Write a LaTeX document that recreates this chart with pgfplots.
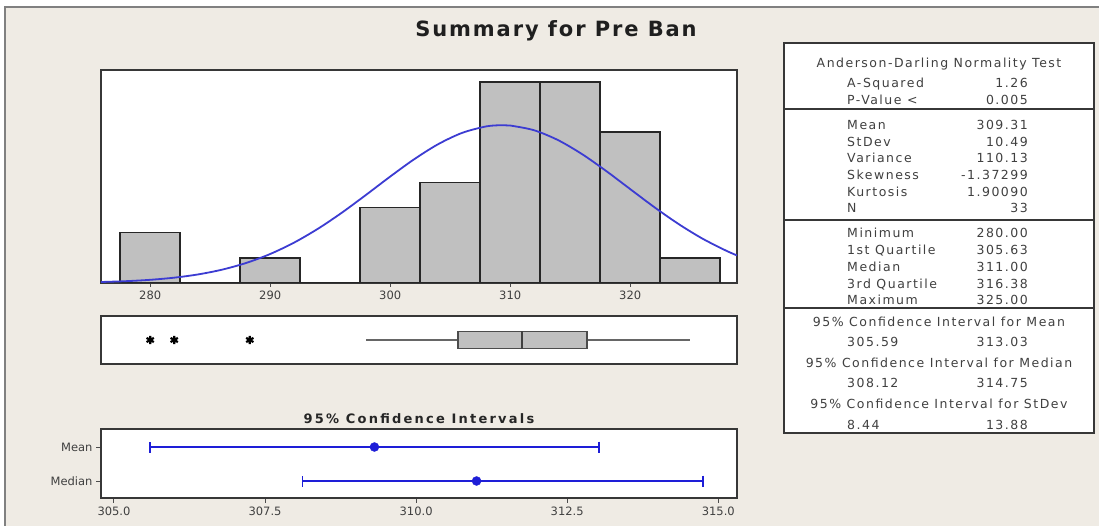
\documentclass[border=0pt]{standalone}
\usepackage{fontspec}
\setmainfont{DejaVu Sans}
\newfontfamily\tabfont{DejaVu Sans}[LetterSpace=12]
\newfontfamily\titfont{DejaVu Sans}[LetterSpace=9]
\newfontfamily\cititfont{DejaVu Sans}[LetterSpace=17]
\usepackage{pgfplots}
\pgfplotsset{compat=1.18}
\usepgfplotslibrary{statistics}
\definecolor{bgbeige}{RGB}{239,235,228}
\definecolor{boxgray}{RGB}{192,192,192}
\definecolor{curveblue}{RGB}{60,60,210}
\definecolor{ciblue}{RGB}{30,30,215}
\definecolor{labgray}{RGB}{64,64,64}
\definecolor{framegray}{RGB}{55,55,55}
\begin{document}
\begin{tikzpicture}[x=1pt,y=1pt]
\path[use as bounding box] (0,0) rectangle (1099,526);
\fill[white] (0,0) rectangle (1099,526);
\fill[bgbeige] (5,0) rectangle (1099,519);
\draw[black!50, line width=2pt] (5,0) -- (5,519) -- (1099,519);

% title
\node[anchor=base, inner sep=0, text=black!88, font=\titfont\bfseries\fontsize{21}{24}\selectfont] at (556,489) {Summary for Pre Ban};

\pgfplotsset{
  panel/.style={
    scale only axis, anchor=south west,
    axis background/.style={fill=white},
    axis line style={draw=framegray, line width=1.8pt},
    tick align=outside, tick pos=left,
    major tick length=4pt,
    tick style={draw=black!70, line width=1pt},
    ticklabel style={font=\fontsize{11.5}{13}\selectfont, text=labgray},
  }
}

% histogram
\begin{axis}[panel, at={(101pt,243pt)}, width=636pt, height=213pt,
  xmin=275.9, xmax=328.9, ymin=0, ymax=8.47,
  xtick={280,290,300,310,320}, xticklabels={280,290,300,310,320},
  ytick=\empty]
\addplot[ybar interval, fill=boxgray, draw=black!85, line width=1.6pt]
  coordinates {(277.5,2) (282.5,0) (287.5,1) (292.5,0) (297.5,3) (302.5,4) (307.5,8) (312.5,8) (317.5,6) (322.5,1) (327.5,1)};
\addplot[smooth, curveblue, line width=1.8pt]
  coordinates {(275.9,0.0393) (278,0.0730) (280,0.1266) (282,0.2118) (284,0.3416) (286,0.5314) (288,0.7971) (290,1.1529) (292,1.6083) (294,2.1630) (296,2.8057) (298,3.5093) (300,4.2319) (302,4.9223) (304,5.5205) (306,5.9704) (308,6.2263) (309.31,6.2751) (310,6.2615) (312,6.0721) (314,5.6783) (316,5.1204) (318,4.4527) (320,3.7336) (322,3.0189) (324,2.3539) (326,1.7698) (328,1.2834) (328.9,1.0973)};
\end{axis}

% boxplot
\begin{axis}[panel, at={(101pt,162pt)}, width=636pt, height=48pt,
  xmin=275.9, xmax=328.9, ymin=0, ymax=1,
  xtick=\empty, ytick=\empty]
\addplot[black!50, line width=2.4pt] coordinates {(298,0.5) (305.63,0.5)};
\addplot[black!50, line width=2.4pt] coordinates {(316.38,0.5) (325,0.5)};
\addplot[boxplot prepared={lower whisker=298, lower quartile=305.63, median=311,
    upper quartile=316.38, upper whisker=325, draw position=0.5, box extend=0.364,
    whisker extend=0, draw direction=x,
    every box/.append style={fill=boxgray, draw=black!70, line width=1.5pt},
    every median/.append style={draw=black!75, line width=2.2pt}},
  draw=black!60, line width=1.5pt] coordinates {};
\addplot[only marks, mark=asterisk, mark size=4.2pt, line width=2.2pt, black]
  coordinates {(280,0.5) (282,0.5) (288.3,0.5)};
\end{axis}

% CI title
\node[anchor=base, inner sep=0, text=black!85, font=\cititfont\bfseries\fontsize{13}{15}\selectfont] at (419,102.5) {95\% Confidence Intervals};

% CI plot
\begin{axis}[panel, at={(101pt,28pt)}, width=636pt, height=69pt,
  xmin=304.785, xmax=315.31, ymin=-0.5, ymax=1.53,
  xtick={305,307.5,310,312.5,315}, xticklabels={305.0,307.5,310.0,312.5,315.0},
  ytick={0,1}, yticklabels={Median,Mean},
  major tick length=5pt]
\addplot[ciblue, only marks, mark=*, mark size=4.5pt, mark options={fill=ciblue, draw=ciblue},
  error bars/.cd, x dir=both, x explicit, error mark=|,
  error bar style={ciblue, line width=1.5pt},
  error mark options={ciblue, line width=1.8pt, mark size=5.5pt}]
  coordinates {(309.31,1) -= (3.72,0) += (3.72,0) (311,0) -= (2.88,0) += (3.75,0)};
\end{axis}

% table
\fill[white] (784,93) rectangle (1094,483);
\draw[framegray, line width=1.8pt] (784,93) rectangle (1094,483);
\draw[framegray, line width=1.8pt] (784,417) -- (1094,417);
\draw[framegray, line width=1.8pt] (784,306) -- (1094,306);
\draw[framegray, line width=1.8pt] (784,218) -- (1094,218);
\begin{scope}[every node/.style={inner sep=0, text=labgray, font=\tabfont\fontsize{12.5}{14}\selectfont}]
\node[anchor=base] at (939,458.5) {Anderson-Darling Normality Test};
\node[anchor=base west] at (847,438.5) {A-Squared};   \node[anchor=base east] at (1028,438.5) {1.26};
\node[anchor=base west] at (847,421.5) {P-Value <};   \node[anchor=base east] at (1028,421.5) {0.005};
\node[anchor=base west] at (847,396.5) {Mean};        \node[anchor=base east] at (1028,396.5) {309.31};
\node[anchor=base west] at (847,379.5) {StDev};       \node[anchor=base east] at (1028,379.5) {10.49};
\node[anchor=base west] at (847,363.5) {Variance};    \node[anchor=base east] at (1028,363.5) {110.13};
\node[anchor=base west] at (847,346.5) {Skewness};    \node[anchor=base east] at (1028,346.5) {-1.37299};
\node[anchor=base west] at (847,329.5) {Kurtosis};    \node[anchor=base east] at (1028,329.5) {1.90090};
\node[anchor=base west] at (847,313.5) {N};           \node[anchor=base east] at (1028,313.5) {33};
\node[anchor=base west] at (847,288.5) {Minimum};     \node[anchor=base east] at (1028,288.5) {280.00};
\node[anchor=base west] at (847,271.5) {1st Quartile};\node[anchor=base east] at (1028,271.5) {305.63};
\node[anchor=base west] at (847,254.5) {Median};      \node[anchor=base east] at (1028,254.5) {311.00};
\node[anchor=base west] at (847,237.5) {3rd Quartile};\node[anchor=base east] at (1028,237.5) {316.38};
\node[anchor=base west] at (847,221.5) {Maximum};     \node[anchor=base east] at (1028,221.5) {325.00};
\node[anchor=base] at (939,199.5) {95\% Confidence Interval for Mean};
\node[anchor=base west] at (847,179.5) {305.59};      \node[anchor=base east] at (1028,179.5) {313.03};
\node[anchor=base] at (939,158.5) {95\% Confidence Interval for Median};
\node[anchor=base west] at (847,138.5) {308.12};      \node[anchor=base east] at (1028,138.5) {314.75};
\node[anchor=base] at (939,117.5) {95\% Confidence Interval for StDev};
\node[anchor=base west] at (847,96.5) {8.44};         \node[anchor=base east] at (1028,96.5) {13.88};
\end{scope}
\end{tikzpicture}
\end{document}
